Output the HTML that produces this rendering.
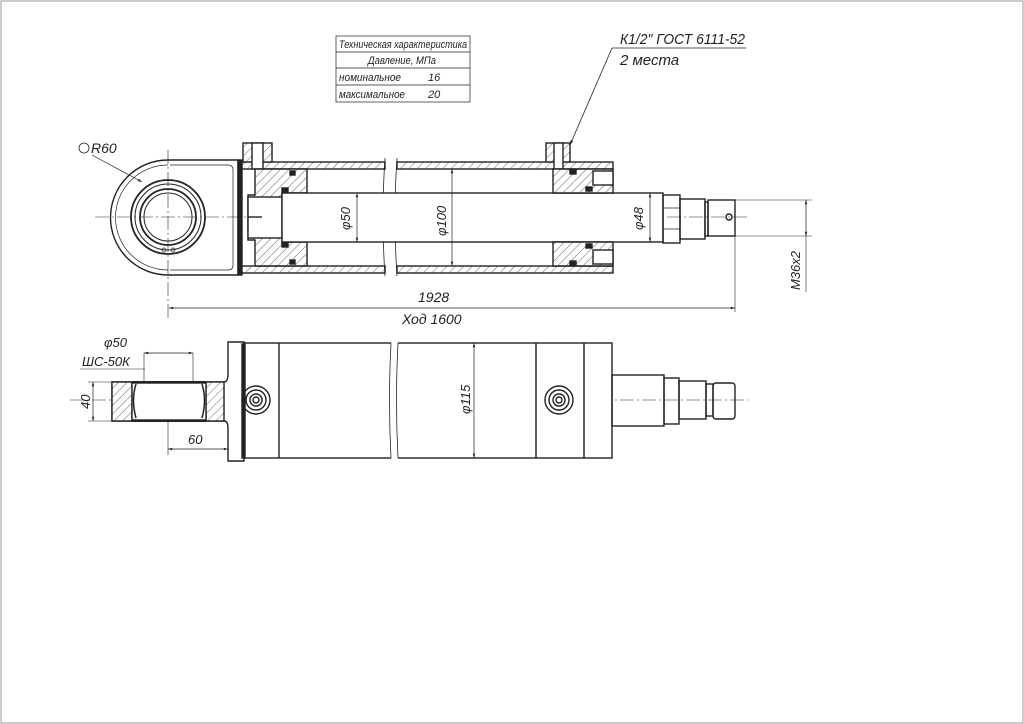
<!DOCTYPE html>
<html><head><meta charset="utf-8"><style>
html,body{margin:0;padding:0;background:#fff}
svg{display:block}
text{font-family:"Liberation Sans",sans-serif;font-style:italic;fill:#222}
</style></head><body>
<svg width="1024" height="724" viewBox="0 0 1024 724" xmlns="http://www.w3.org/2000/svg">
<defs>
<pattern id="h" width="6" height="6" patternUnits="userSpaceOnUse" patternTransform="rotate(45)">
<rect width="6" height="6" fill="#fff"/><line x1="0" y1="0" x2="0" y2="6" stroke="#444" stroke-width="0.8"/></pattern>
<marker id="a" viewBox="0 0 10 10" refX="10" refY="5" markerWidth="8" markerHeight="6" orient="auto-start-reverse"><path d="M0,2 L10,5 L0,8 z" fill="#222"/></marker>
</defs>
<rect x="1" y="1" width="1022" height="722" fill="none" stroke="#999" stroke-width="1"/>
<g stroke="#222" fill="none" stroke-width="1.4">
<!-- table -->
<rect x="336" y="36" width="134" height="66" stroke-width="0.7"/>
<line x1="336" y1="52" x2="470" y2="52" stroke-width="0.7"/>
<line x1="336" y1="68" x2="470" y2="68" stroke-width="0.7"/>
<line x1="336" y1="85" x2="470" y2="85" stroke-width="0.7"/>
<!-- leader -->
<line x1="612" y1="48" x2="746" y2="48" stroke-width="0.8"/>
<line x1="612" y1="48" x2="570" y2="145" stroke-width="0.8" marker-end="url(#a)"/>
<!-- center line top -->
<line x1="95" y1="217" x2="748" y2="217" stroke-width="0.6" stroke-dasharray="14,3,2,3"/>
<line x1="168" y1="150" x2="168" y2="318" stroke-width="0.6" stroke-dasharray="14,3,2,3"/>
<!-- eye -->
<path d="M168,160 L238,160 L238,275 L168,275 A57.5,57.5 0 0 1 168,160 Z"/>
<path d="M170,165 L228,165 Q233,165 233,170 L233,265 Q233,270 228,270 L170,270" stroke-width="0.7"/>
<path d="M168,165 A52,52 0 0 0 168,270" stroke-width="0.7"/>
<circle cx="168" cy="217" r="37" stroke-width="1.8"/>
<circle cx="168" cy="217" r="33" stroke-width="1"/>
<circle cx="168" cy="217" r="28" stroke-width="1.8"/>
<circle cx="168" cy="217" r="24" stroke-width="1"/>
<circle cx="164" cy="250" r="2" stroke-width="0.7"/><circle cx="173" cy="250" r="2" stroke-width="0.7"/>
<line x1="92" y1="155" x2="142" y2="182" stroke-width="0.7" marker-end="url(#a)"/>
<rect x="238" y="160" width="4" height="115" fill="#222"/>
<!-- tube -->
<rect x="242" y="162" width="143" height="7" fill="url(#h)"/>
<rect x="242" y="266" width="143" height="7" fill="url(#h)"/>
<rect x="397" y="162" width="216" height="7" fill="url(#h)"/>
<rect x="397" y="266" width="216" height="7" fill="url(#h)"/>
<path d="M385,158 Q381,217 385,276 M397,158 Q393,217 397,276" stroke-width="0.8"/>
<!-- ports -->
<rect x="243" y="143" width="29" height="19" fill="url(#h)"/>
<rect x="252" y="143" width="11" height="26" fill="#fff"/>
<rect x="546" y="143" width="24" height="19" fill="url(#h)"/>
<rect x="554" y="143" width="9" height="26" fill="#fff"/>
<!-- piston -->
<path d="M255,169 L307,169 L307,193 L282,193 L282,242 L307,242 L307,266 L255,266 L255,240 L248,240 L248,195 L255,195 Z" fill="url(#h)"/>
<rect x="248" y="197" width="34" height="41" fill="#fff"/>
<line x1="248" y1="217" x2="262" y2="217"/>
<rect x="290" y="171" width="5" height="4" fill="#222"/><rect x="290" y="260" width="5" height="4" fill="#222"/>
<rect x="282" y="188" width="6" height="4" fill="#222"/><rect x="282" y="243" width="6" height="4" fill="#222"/>
<!-- rod -->
<rect x="282" y="193" width="381" height="49" fill="#fff"/>
<!-- right head -->
<path d="M553,169 L613,169 L613,193 L553,193 Z" fill="url(#h)"/>
<path d="M553,242 L613,242 L613,266 L553,266 Z" fill="url(#h)"/>
<rect x="593" y="171" width="20" height="14" fill="#fff"/><rect x="593" y="250" width="20" height="14" fill="#fff"/>
<rect x="570" y="170" width="6" height="4" fill="#222"/><rect x="570" y="261" width="6" height="4" fill="#222"/>
<rect x="586" y="187" width="6" height="4" fill="#222"/><rect x="586" y="244" width="6" height="4" fill="#222"/>
<!-- rod end -->
<rect x="663" y="195" width="17" height="48"/>
<line x1="663" y1="208" x2="680" y2="208" stroke-width="0.7"/><line x1="663" y1="229" x2="680" y2="229" stroke-width="0.7"/>
<rect x="680" y="199" width="25" height="40"/>
<rect x="705" y="202" width="3" height="34"/>
<rect x="708" y="200" width="27" height="36"/>
<circle cx="729" cy="217" r="3"/>
<!-- dims top -->
<line x1="357" y1="193" x2="357" y2="242" stroke-width="0.7" marker-start="url(#a)" marker-end="url(#a)"/>
<line x1="452" y1="169" x2="452" y2="266" stroke-width="0.7" marker-start="url(#a)" marker-end="url(#a)"/>
<line x1="650" y1="193" x2="650" y2="242" stroke-width="0.7" marker-start="url(#a)" marker-end="url(#a)"/>
<line x1="735" y1="200" x2="812" y2="200" stroke-width="0.6"/><line x1="735" y1="236" x2="812" y2="236" stroke-width="0.6"/>
<line x1="806" y1="200" x2="806" y2="236" stroke-width="0.7" marker-start="url(#a)" marker-end="url(#a)"/>
<line x1="806" y1="236" x2="806" y2="292" stroke-width="0.6"/>
<line x1="735" y1="236" x2="735" y2="312" stroke-width="0.6"/>
<line x1="169" y1="308" x2="735" y2="308" stroke-width="0.7" marker-start="url(#a)" marker-end="url(#a)"/>
<!-- bottom view -->
<line x1="70" y1="400" x2="748" y2="400" stroke-width="0.6" stroke-dasharray="14,3,2,3"/>
<path d="M112,382 L224,382 Q228,382 228,374 L228,342 L244,342 L244,461 L228,461 L228,428 Q228,421 224,421 L112,421 Z" fill="#fff"/>
<rect x="112" y="382" width="20" height="39" fill="url(#h)"/>
<rect x="206" y="382" width="18" height="39" fill="url(#h)"/>
<rect x="132" y="383" width="74" height="37" fill="#fff"/>
<line x1="132" y1="382" x2="206" y2="382" stroke-width="2"/><line x1="132" y1="421" x2="206" y2="421" stroke-width="2"/>
<path d="M136,384 Q131,400 136,418 M202,384 Q207,400 202,418" stroke-width="1.5"/>
<rect x="242" y="344" width="3" height="114" fill="#222"/>
<rect x="245" y="343" width="367" height="115" fill="#fff"/>
<line x1="279" y1="343" x2="279" y2="458"/>
<line x1="536" y1="343" x2="536" y2="458"/><line x1="584" y1="343" x2="584" y2="458"/>
<rect x="391" y="340" width="7" height="121" fill="#fff" stroke="none"/>
<path d="M391,343 Q388,400 391,458 M398,343 Q395,400 398,458" stroke-width="0.8"/>
<circle cx="256" cy="400" r="14"/><circle cx="256" cy="400" r="10"/><circle cx="256" cy="400" r="6"/><circle cx="256" cy="400" r="3"/>
<circle cx="559" cy="400" r="14"/><circle cx="559" cy="400" r="10"/><circle cx="559" cy="400" r="6"/><circle cx="559" cy="400" r="3"/>
<rect x="612" y="375" width="52" height="51"/>
<rect x="664" y="378" width="15" height="46"/>
<rect x="679" y="381" width="27" height="38"/>
<rect x="706" y="384" width="7" height="32"/>
<rect x="713" y="383" width="22" height="36" rx="3"/>
<line x1="474" y1="343" x2="474" y2="458" stroke-width="0.7" marker-start="url(#a)" marker-end="url(#a)"/>
<line x1="144" y1="353" x2="193" y2="353" stroke-width="0.7" marker-start="url(#a)" marker-end="url(#a)"/>
<line x1="144" y1="353" x2="144" y2="382" stroke-width="0.6"/><line x1="193" y1="353" x2="193" y2="382" stroke-width="0.6"/>
<line x1="80" y1="369" x2="145" y2="369" stroke-width="0.6"/>
<line x1="88" y1="382" x2="112" y2="382" stroke-width="0.6"/><line x1="88" y1="421" x2="112" y2="421" stroke-width="0.6"/>
<line x1="93" y1="382" x2="93" y2="421" stroke-width="0.7" marker-start="url(#a)" marker-end="url(#a)"/>
<line x1="168" y1="421" x2="168" y2="455" stroke-width="0.6"/>
<line x1="168" y1="449" x2="228" y2="449" stroke-width="0.7" marker-start="url(#a)" marker-end="url(#a)"/>
</g>
<g font-size="12">
<text x="339" y="48" font-size="11" textLength="128" lengthAdjust="spacingAndGlyphs">Техническая характеристика</text>
<text x="368" y="64" font-size="11" textLength="68" lengthAdjust="spacingAndGlyphs">Давление, МПа</text>
<text x="339" y="81" font-size="11" textLength="62" lengthAdjust="spacingAndGlyphs">номинальное</text><text x="428" y="81" font-size="11">16</text>
<text x="339" y="98" font-size="11" textLength="66" lengthAdjust="spacingAndGlyphs">максимальное</text><text x="428" y="98" font-size="11">20</text>
<text x="620" y="44" font-size="15" textLength="125" lengthAdjust="spacingAndGlyphs">К1/2" ГОСТ 6111-52</text>
<text x="620" y="65" font-size="15">2 места</text>
<circle cx="84" cy="148" r="5" fill="none" stroke="#222" stroke-width="0.8"/>
<text x="91" y="153" font-size="14">R60</text>
<text x="418" y="302" font-size="14">1928</text>
<text x="402" y="324" font-size="14">Ход 1600</text>
<text transform="translate(350,230) rotate(-90)" font-size="13">φ50</text>
<text transform="translate(446,236) rotate(-90)" font-size="13">φ100</text>
<text transform="translate(643,230) rotate(-90)" font-size="13">φ48</text>
<text transform="translate(800,290) rotate(-90)" font-size="13">М36х2</text>
<text x="104" y="347" font-size="13">φ50</text>
<text x="82" y="366" font-size="13">ШС-50К</text>
<text transform="translate(90,409) rotate(-90)" font-size="13">40</text>
<text x="188" y="444" font-size="13">60</text>
<text transform="translate(470,414) rotate(-90)" font-size="13">φ115</text>
</g>
</svg>
</body></html>
